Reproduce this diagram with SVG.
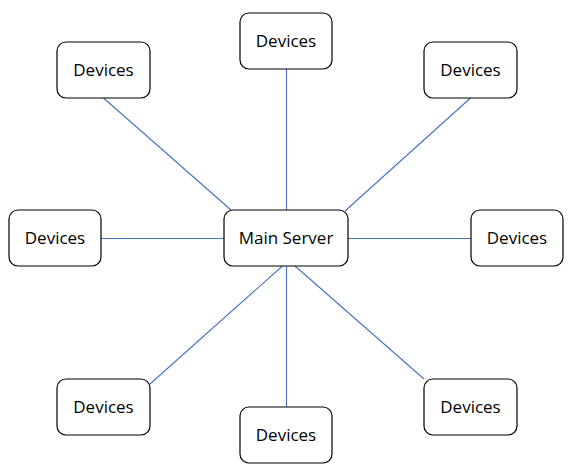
<svg xmlns="http://www.w3.org/2000/svg" width="577" height="476" viewBox="0 0 577 476">
<style>
.box{fill:#fff;stroke:#000;stroke-width:1.2}
.lbl{font-family:"Open Sans","Noto Sans",sans-serif;font-size:17px;fill:#000;text-anchor:middle}
.edge{stroke:#4472C4;stroke-width:1.1;fill:none}
</style>
<rect width="577" height="476" fill="#fff"/>
<g id="connectors">
<line class="edge" x1="286.5" y1="69" x2="286.5" y2="210"/>
<line class="edge" x1="103.5" y1="98" x2="231" y2="210"/>
<line class="edge" x1="470.5" y1="98" x2="345" y2="211"/>
<line class="edge" x1="101" y1="238.5" x2="224" y2="238.5"/>
<line class="edge" x1="348" y1="238.5" x2="471" y2="238.5"/>
<line class="edge" x1="282.5" y1="266" x2="150" y2="384"/>
<line class="edge" x1="286.5" y1="266" x2="286.5" y2="407"/>
<line class="edge" x1="295" y1="266" x2="424" y2="379"/>
</g>
<g id="server"><rect class="box" x="224" y="210" width="124" height="56" rx="9"/><text class="lbl" x="286" y="244">Main Server</text></g>
<g id="dev-top"><rect class="box" x="240" y="13" width="92" height="56" rx="9"/><text class="lbl" x="286" y="47">Devices</text></g>
<g id="dev-topleft"><rect class="box" x="57" y="42" width="93" height="56" rx="9"/><text class="lbl" x="103.5" y="76">Devices</text></g>
<g id="dev-topright"><rect class="box" x="424" y="42" width="93" height="56" rx="9"/><text class="lbl" x="470.5" y="76">Devices</text></g>
<g id="dev-left"><rect class="box" x="9" y="210" width="92" height="56" rx="9"/><text class="lbl" x="55" y="244">Devices</text></g>
<g id="dev-right"><rect class="box" x="471" y="210" width="92" height="56" rx="9"/><text class="lbl" x="517" y="244">Devices</text></g>
<g id="dev-bottomleft"><rect class="box" x="57" y="379" width="93" height="56" rx="9"/><text class="lbl" x="103.5" y="413">Devices</text></g>
<g id="dev-bottom"><rect class="box" x="240" y="407" width="92" height="56" rx="9"/><text class="lbl" x="286" y="441">Devices</text></g>
<g id="dev-bottomright"><rect class="box" x="424" y="379" width="93" height="56" rx="9"/><text class="lbl" x="470.5" y="413">Devices</text></g>
</svg>
